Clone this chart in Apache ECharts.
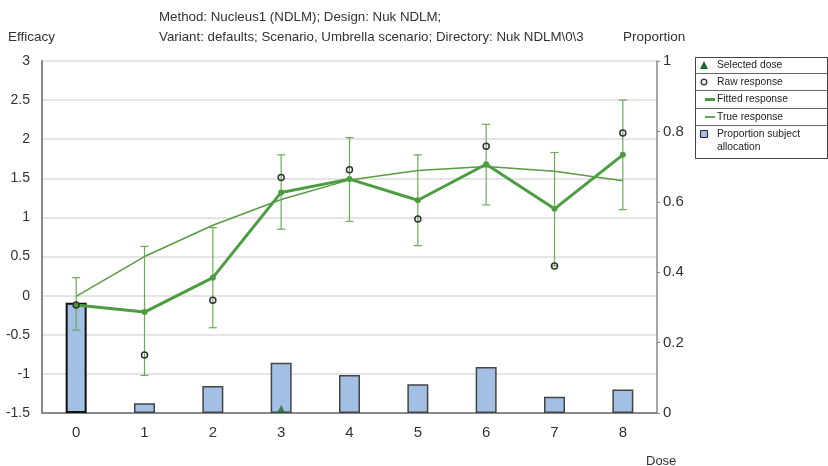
<!DOCTYPE html>
<html><head><meta charset="utf-8">
<script src="https://cdn.jsdelivr.net/npm/echarts@6/dist/echarts.min.js"></script>
<style>html,body{margin:0;padding:0;background:#fff}#c{width:828px;height:466px}</style>
</head><body><div id="c"></div>
<script>
const doses = ['0', '1', '2', '3', '4', '5', '6', '7', '8'];
const fitted = [-0.12, -0.21, 0.23, 1.32, 1.49, 1.22, 1.68, 1.11, 1.80];
const trueResp = [-0.01, 0.50, 0.90, 1.23, 1.48, 1.60, 1.65, 1.59, 1.47];
const raw = [-0.12, -0.76, -0.06, 1.51, 1.61, 0.98, 1.91, 0.38, 2.08];
const errLow = [-0.44, -1.02, -0.41, 0.85, 0.95, 0.64, 1.16, 0.38, 1.10];
const errHigh = [0.23, 0.63, 0.87, 1.80, 2.02, 1.80, 2.19, 1.83, 2.50];
const allocation = [0.313, 0.028, 0.077, 0.143, 0.108, 0.082, 0.131, 0.046, 0.067];
const selectedDose = 3;
const efficacyMin = -1.5, efficacyMax = 3, efficacyStep = 0.5;
const propMin = 0, propMax = 1, propStep = 0.2;
const titleLines = ['Method: Nucleus1 (NDLM); Design: Nuk NDLM;',
  'Variant: defaults; Scenario, Umbrella scenario; Directory: Nuk NDLM\\0\\3'];
const legendItems = ['Selected dose', 'Raw response', 'Fitted response', 'True response', 'Proportion subject\nallocation'];

const FONT = '"Liberation Sans", Arial, sans-serif';
const chart = echarts.init(document.getElementById('c'));

const errData = doses.map((d, i) => [i, errLow[i], errHigh[i]]);
const barData = allocation.map((v, i) => i === 0
  ? {value: v, itemStyle: {borderColor: '#111', borderWidth: 2}} : v);

function txt(x, y, s, size) {
  return {type: 'text', x: x, y: y, style: {text: s, fill: '#333', font: size + 'px ' + FONT, textVerticalAlign: 'middle'}};
}

const lx = 695.5, ly = 57.5, lw = 132, lh = 101;
const rowY = [65, 82, 99.5, 117];
const seps = [73.5, 90.5, 108.5, 125.5];
const legendGraphics = [
  {type: 'rect', shape: {x: lx, y: ly, width: lw, height: lh}, style: {fill: '#fff', stroke: '#444', lineWidth: 1}},
  ...seps.map(y => ({type: 'line', shape: {x1: lx, y1: y, x2: lx + lw, y2: y}, style: {stroke: '#666', lineWidth: 1}})),
  {type: 'polygon', shape: {points: [[704, 61], [700, 69], [708, 69]]}, style: {fill: '#1e6b2e'}},
  {type: 'circle', shape: {cx: 704, cy: 82, r: 2.8}, style: {fill: '#fff', stroke: '#444', lineWidth: 1.5}},
  {type: 'line', shape: {x1: 705, y1: 99.5, x2: 715, y2: 99.5}, style: {stroke: '#4c9d40', lineWidth: 3}},
  {type: 'line', shape: {x1: 705, y1: 117, x2: 715, y2: 117}, style: {stroke: '#3d7f34', lineWidth: 1.5}},
  {type: 'rect', shape: {x: 700.5, y: 130.5, width: 7, height: 7}, style: {fill: '#a4bfe4', stroke: '#223', lineWidth: 1}},
  ...legendItems.map((s, i) => ({type: 'text', x: 717, y: i < 4 ? rowY[i] : 128, style: {text: s, fill: '#222', font: '10.3px ' + FONT, textVerticalAlign: i < 4 ? 'middle' : 'top', lineHeight: 13}}))
];

chart.setOption({
  animation: false,
  backgroundColor: '#fff',
  grid: {left: 42, right: 171, top: 61, bottom: 53},
  graphic: [
    txt(159, 17, titleLines[0], 13.3),
    txt(159, 37, titleLines[1], 13.3),
    txt(8, 37, 'Efficacy', 13.5),
    txt(623, 37, 'Proportion', 13.5),
    txt(646, 461, 'Dose', 13),
    ...legendGraphics
  ],
  xAxis: {
    type: 'category', data: doses, boundaryGap: true,
    axisLine: {onZero: false, lineStyle: {color: '#888', width: 2}},
    axisTick: {show: false},
    axisLabel: {color: '#333', fontSize: 15, fontFamily: FONT, margin: 12}
  },
  yAxis: [{
    type: 'value', min: efficacyMin, max: efficacyMax, interval: efficacyStep,
    axisLine: {show: true, lineStyle: {color: '#888', width: 2}},
    axisTick: {show: false},
    axisLabel: {color: '#333', fontSize: 14, fontFamily: FONT, margin: 12},
    splitLine: {lineStyle: {color: '#dcdcdc', width: 1.5}}
  }, {
    type: 'value', min: propMin, max: propMax, interval: propStep, position: 'right',
    axisLine: {show: true, lineStyle: {color: '#888', width: 1.5}},
    axisTick: {show: true, length: 3, lineStyle: {color: '#888'}},
    axisLabel: {color: '#333', fontSize: 15, fontFamily: FONT, margin: 6},
    splitLine: {show: false}
  }],
  series: [{
    type: 'bar', yAxisIndex: 1, data: barData, barWidth: 21,
    itemStyle: {color: '#a4bfe4', borderColor: '#444', borderWidth: 1.5}, z: 1
  }, {
    type: 'line', yAxisIndex: 0, data: trueResp, symbol: 'none',
    lineStyle: {color: '#5a9a45', width: 1.5}, z: 3
  }, {
    type: 'custom', yAxisIndex: 0, data: errData, z: 4,
    renderItem: function (params, api) {
      const x = api.value(0);
      const p1 = api.coord([x, api.value(1)]), p2 = api.coord([x, api.value(2)]);
      const w = 4, st = {stroke: '#6aab5a', lineWidth: 1.2};
      return {type: 'group', children: [
        {type: 'line', shape: {x1: p1[0], y1: p1[1], x2: p2[0], y2: p2[1]}, style: st},
        {type: 'line', shape: {x1: p1[0] - w, y1: p1[1], x2: p1[0] + w, y2: p1[1]}, style: st},
        {type: 'line', shape: {x1: p2[0] - w, y1: p2[1], x2: p2[0] + w, y2: p2[1]}, style: st}
      ]};
    }
  }, {
    type: 'line', yAxisIndex: 0, data: fitted, symbol: 'circle', symbolSize: 6,
    lineStyle: {color: '#4c9d40', width: 3}, itemStyle: {color: '#4c9d40'}, z: 5
  }, {
    type: 'scatter', yAxisIndex: 0, data: raw, symbol: 'circle', symbolSize: 6,
    itemStyle: {color: 'rgba(255,255,255,0)', borderColor: '#333', borderWidth: 1.5, opacity: 1}, z: 6
  }, {
    type: 'scatter', yAxisIndex: 0, data: [[selectedDose, efficacyMin]], symbol: 'triangle',
    symbolSize: [8, 8], symbolOffset: [0, -4], itemStyle: {color: '#1e6b2e'}, z: 7, clip: false
  }]
});
</script></body></html>
